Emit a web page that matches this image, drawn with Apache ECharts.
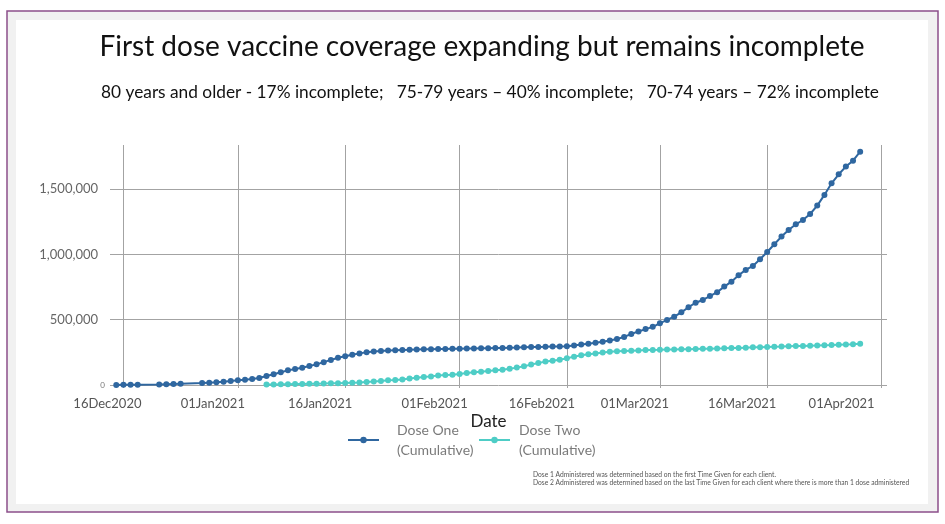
<!DOCTYPE html>
<html><head><meta charset="utf-8">
<script src="https://cdn.jsdelivr.net/npm/echarts@6/dist/echarts.min.js"></script>
<style>html,body{margin:0;padding:0;background:#fff}#c{width:945px;height:524px}</style>
</head><body><div id="c"></div>
<script>
const titleText = 'First dose vaccine coverage expanding but remains incomplete';
const subtitleText = '80 years and older - 17% incomplete;   75-79 years \u2013 40% incomplete;   70-74 years \u2013 72% incomplete';
const footnotes = ['Dose 1 Administered was determined based on the first Time Given for each client.',
  'Dose 2 Administered was determined based on the last Time Given for each client where there is more than 1 dose administered'];
const seriesNames = ['Dose One (Cumulative)', 'Dose Two (Cumulative)'];
const xTickDates = ['2020-12-16','2021-01-01','2021-01-16','2021-02-01','2021-02-16','2021-03-01','2021-03-16','2021-04-01'];
const xMin = '2020-12-14 03:00:00';
const xMax = '2021-04-01 18:00:00';
const yMax = 1837000;
const dates = [
 '2020-12-15','2020-12-16','2020-12-17','2020-12-18','2020-12-21','2020-12-22','2020-12-23','2020-12-24','2020-12-27','2020-12-28','2020-12-29','2020-12-30','2020-12-31',
 '2021-01-01','2021-01-02','2021-01-03','2021-01-04','2021-01-05','2021-01-06','2021-01-07','2021-01-08','2021-01-09','2021-01-10',
 '2021-01-11','2021-01-12','2021-01-13','2021-01-14','2021-01-15','2021-01-16','2021-01-17','2021-01-18','2021-01-19','2021-01-20',
 '2021-01-21','2021-01-22','2021-01-23','2021-01-24','2021-01-25','2021-01-26','2021-01-27','2021-01-28','2021-01-29','2021-01-30','2021-01-31',
 '2021-02-01','2021-02-02','2021-02-03','2021-02-04','2021-02-05','2021-02-06','2021-02-07','2021-02-08','2021-02-09','2021-02-10',
 '2021-02-11','2021-02-12','2021-02-13','2021-02-14','2021-02-15','2021-02-16','2021-02-17','2021-02-18','2021-02-19','2021-02-20',
 '2021-02-21','2021-02-22','2021-02-23','2021-02-24','2021-02-25','2021-02-26','2021-02-27','2021-02-28',
 '2021-03-01','2021-03-02','2021-03-03','2021-03-04','2021-03-05','2021-03-06','2021-03-07','2021-03-08','2021-03-09','2021-03-10',
 '2021-03-11','2021-03-12','2021-03-13','2021-03-14','2021-03-15','2021-03-16','2021-03-17','2021-03-18','2021-03-19','2021-03-20',
 '2021-03-21','2021-03-22','2021-03-23','2021-03-24','2021-03-25','2021-03-26','2021-03-27','2021-03-28','2021-03-29'
];
const doseOne = [
 500,1000,1500,2500,4000,6000,8000,10000,15000,18000,21000,25000,30000,
 36000,40000,46000,54000,69000,82000,97000,112000,122000,132000,
 145000,158000,175000,192000,208000,220000,232000,242000,250000,256000,
 261000,264000,266000,268000,269000,271000,273000,274000,275000,276000,277000,
 278000,279000,280000,281000,282000,283000,284000,286000,287000,289000,
 290000,291000,292000,294000,295000,297000,303000,310000,316000,323000,
 331000,340000,352000,368000,390000,410000,428000,445000,
 472000,498000,523000,556000,595000,630000,651000,681000,710000,753000,
 791000,840000,881000,911000,962000,1018000,1077000,1136000,1187000,1230000,
 1263000,1309000,1373000,1455000,1544000,1613000,1672000,1717000,1786000
];
const doseTwo = [
 null,null,null,null,null,null,null,null,null,null,null,null,null,
 null,null,null,null,3000,4000,5000,6000,7000,8000,
 9000,10000,11000,13000,14000,16000,18000,20000,23000,26000,
 31000,36000,38000,43000,49000,56000,61000,66000,72000,77000,79000,
 84000,92000,97000,102000,107000,112000,117000,125000,133000,143000,
 156000,168000,179000,186000,194000,204000,217000,227000,235000,241000,
 248000,254000,258000,261000,263000,265000,267000,268000,
 269000,271000,272000,273000,274000,276000,277000,278000,280000,281000,
 283000,284000,286000,288000,289000,291000,293000,294000,296000,298000,
 299000,301000,303000,305000,306000,308000,310000,312000,316000
];
const months = ['Jan','Feb','Mar','Apr','May','Jun','Jul','Aug','Sep','Oct','Nov','Dec'];
const pd = s => echarts.number.parseDate(s).getTime();
const tickVals = xTickDates.map(pd);
const FONT = 'Lato, "Open Sans", sans-serif';
const grid = '#a3a3a3';

const chart = echarts.init(document.getElementById('c'), null, {renderer: 'canvas'});
const option = {
  backgroundColor: '#ffffff',
  animation: false,
  textStyle: {fontFamily: FONT},
  graphic: [
    {type: 'rect', z: -100, silent: true, shape: {x: 7, y: 11, width: 931, height: 501},
     style: {fill: '#f1f1f1', stroke: '#8c4f8a', lineWidth: 1.5}},
    {type: 'rect', z: -99, silent: true, shape: {x: 16, y: 20, width: 912, height: 484},
     style: {fill: '#ffffff'}},
    {type: 'text', z: 10, x: 482, y: 47,
     style: {text: titleText, font: '28px ' + FONT, fill: '#111', textAlign: 'center', textVerticalAlign: 'middle'}},
    {type: 'text', z: 10, x: 490, y: 92,
     style: {text: subtitleText, font: '17.3px ' + FONT, fill: '#111', textAlign: 'center', textVerticalAlign: 'middle'}},
    {type: 'text', z: 10, x: 533, y: 471,
     style: {text: footnotes.join('\n'), font: '6.7px ' + FONT, fill: '#555', lineHeight: 8}}
  ],
  grid: {left: 110, right: 58, top: 145, bottom: 139, containLabel: false},
  legend: [
    {data: [seriesNames[0]], left: 347, top: 416, padding: 0, itemWidth: 31, itemHeight: 8,
     formatter: n => n.replace(' (', '\n('),
     textStyle: {color: '#7a7a7a', fontSize: 14, lineHeight: 20, padding: [8, 0, 0, 13], fontFamily: FONT}},
    {data: [seriesNames[1]], left: 478, top: 416, padding: 0, itemWidth: 31, itemHeight: 8,
     formatter: n => n.replace(' (', '\n('),
     textStyle: {color: '#7a7a7a', fontSize: 14, lineHeight: 20, padding: [8, 0, 0, 4], fontFamily: FONT}}
  ],
  xAxis: {
    type: 'value', min: pd(xMin), max: pd(xMax),
    name: 'Date', nameLocation: 'middle', nameGap: 28,
    nameTextStyle: {fontSize: 17, color: '#222', padding: [0, 20, 0, 0], fontFamily: FONT},
    axisLine: {show: false},
    axisTick: {show: true, length: 3, customValues: tickVals, lineStyle: {color: grid}},
    splitLine: {show: true, lineStyle: {color: grid, width: 1}},
    axisLabel: {
      customValues: tickVals, margin: 12, color: '#555', fontSize: 13, fontFamily: FONT,
      formatter: v => {
        const d = new Date(v);
        const t = String(d.getDate()).padStart(2, '0') + months[d.getMonth()] + d.getFullYear();
        const idx = tickVals.indexOf(v);
        const st = idx === 0 ? 'a' : (idx === tickVals.length - 1 ? 'c' : 'b');
        return '{' + st + '|' + t + '}';
      },
      rich: {
        a: {padding: [0, 32, 0, 0], fontSize: 13, color: '#555', fontFamily: FONT},
        b: {padding: [0, 50, 0, 0], fontSize: 13, color: '#555', fontFamily: FONT},
        c: {padding: [0, 80, 0, 0], fontSize: 13, color: '#555', fontFamily: FONT}
      }
    }
  },
  yAxis: {
    type: 'value', min: 0, max: yMax, interval: 500000,
    axisLine: {show: false}, axisTick: {show: false},
    splitLine: {show: true, showMaxLine: false, lineStyle: {color: grid, width: 1}},
    axisLabel: {
      showMaxLabel: false, margin: 5, color: '#666', fontSize: 13, fontFamily: FONT,
      formatter: v => v === 0 ? '{z|0}' : '{n|' + v.toLocaleString('en-US') + '}',
      rich: {
        z: {fontSize: 8, color: '#777', fontFamily: FONT},
        n: {fontSize: 13, color: '#666', padding: [0, 7, 0, 0], fontFamily: FONT}
      }
    }
  },
  series: [
    {name: seriesNames[0], type: 'line', data: dates.map((d, i) => [pd(d), doseOne[i]]),
     symbol: 'circle', symbolSize: 6, showSymbol: true, connectNulls: true,
     lineStyle: {color: '#2f67a0', width: 2}, itemStyle: {color: '#2f67a0'}, z: 3},
    {name: seriesNames[1], type: 'line', data: dates.map((d, i) => [pd(d), doseTwo[i]]),
     symbol: 'circle', symbolSize: 6, showSymbol: true,
     lineStyle: {color: '#4ecdc6', width: 2}, itemStyle: {color: '#4ecdc6'}, z: 2}
  ]
};
chart.setOption(option);
</script></body></html>
